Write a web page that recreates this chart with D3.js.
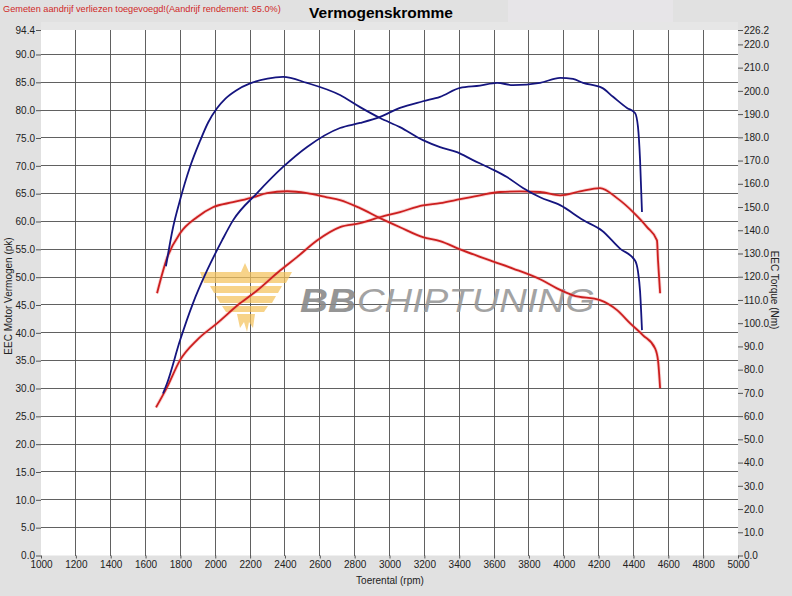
<!DOCTYPE html>
<html><head><meta charset="utf-8">
<script src="https://cdn.jsdelivr.net/npm/d3@7"></script>
<style>
html,body{margin:0;padding:0;background:#e1e1e1;}
svg{display:block;font-family:"Liberation Sans",Arial,sans-serif;}
</style></head>
<body>
<svg id="chart" width="792" height="596"></svg>
<script>
// ---- data ----
const rpmTicks = d3.range(1000, 5001, 200);
const pkTicks = d3.range(0, 90.1, 5).concat([94.4]);
const nmTicks = d3.range(0, 220.1, 10).concat([226.2]);

// tuned (blue) torque, Nm
const tunedTorqueRpm = [1717,1758,1798,1855,1912,1960,2010,2060,2120,2200,2300,2389,2527,2716,2831,2946,3060,3192,3290,3387,3479,3577,3674,3766,3864,3979,4111,4220,4323,4409,4426,4438,4449];
const tunedTorqueNm  = [124.5,141.3,153,167.2,178.3,186.5,192.5,196.8,200.2,203.2,205.3,206,203.4,198.2,193,188.3,184.4,178.8,175.8,173.6,170.2,166.7,162.9,158.2,154.2,150.8,144.4,139.8,132.1,127,122.3,113.7,97];
// tuned (blue) power, pk
const tunedPowerRpm = [1700,1723,1798,1872,1953,2039,2102,2240,2389,2527,2716,2831,2946,3060,3192,3290,3405,3519,3617,3709,3864,3979,4053,4111,4220,4283,4363,4409,4426,4438,4449];
const tunedPowerPk  = [29.1,30.9,38.65,45.3,51.2,56.6,60.2,65.1,69.8,73.4,76.8,77.7,78.8,80.4,81.6,82.4,84.0,84.4,84.9,84.5,84.9,85.8,85.6,84.9,84.0,82.4,80.4,79.5,77.0,71.0,61.7];
// stock (red) torque, Nm
const stockTorqueRpm = [1666,1723,1798,1895,1987,2102,2217,2297,2412,2527,2641,2716,2831,2946,3060,3192,3290,3405,3577,3709,3864,3961,4053,4208,4306,4380,4455,4524,4541,4553];
const stockTorqueNm  = [112.9,128,138.7,145.6,149.9,152.1,154.2,156.0,156.8,156.0,154.2,153,149.5,145.2,141.3,137,135.3,131.8,127,123.5,118.9,115,112,109.9,105.6,100,94.8,89.2,84,72];
// stock (red) power, pk
const stockPowerRpm = [1660,1723,1798,1895,2010,2142,2240,2372,2469,2584,2716,2831,2946,3060,3192,3290,3405,3519,3634,3749,3864,3979,4093,4208,4306,4398,4478,4535,4541,4553];
const stockPowerPk  = [26.6,30.2,35.1,38.7,41.7,45.3,47.6,51.2,53.6,56.6,59.0,59.7,60.8,61.7,62.9,63.3,64.0,64.7,65.3,65.4,65.3,64.7,65.4,66.0,64.2,61.7,59.0,56.6,53.0,47.1];

const headerText = "Gemeten aandrijf verliezen toegevoegd!(Aandrijf rendement: 95.0%)";
const titleText = "Vermogenskromme";

// ---- layout ----
const L = 41, R = 738, T = 30, B = 555.5;
const svg = d3.select("#chart");
const x = d3.scaleLinear().domain([1000, 5000]).range([L, R]);
const yL = d3.scaleLinear().domain([0, 94.4]).range([B, T]);
const yR = d3.scaleLinear().domain([0, 226.2]).range([B, T]);

svg.append("rect").attr("width", 792).attr("height", 596).attr("fill", "#e1e1e1");
svg.append("rect").attr("x", 508).attr("y", 0).attr("width", 165).attr("height", 22).attr("fill", "#e7e5e8");
svg.append("rect").attr("x", L).attr("y", 22).attr("width", R - L).attr("height", 8).attr("fill", "#e6e6e6");
svg.append("rect").attr("x", L).attr("y", T).attr("width", R - L).attr("height", B - T).attr("fill", "#ffffff");

// grid
const grid = svg.append("g").attr("stroke", "#505050").attr("stroke-width", 0.9).attr("shape-rendering", "crispEdges");
grid.selectAll("line.v").data(rpmTicks.slice(1, -1)).join("line")
  .attr("x1", d => x(d)).attr("x2", d => x(d)).attr("y1", T).attr("y2", B);
grid.selectAll("line.h").data(pkTicks.filter(d => d > 0 && d < 94)).join("line")
  .attr("x1", L).attr("x2", R).attr("y1", d => yL(d)).attr("y2", d => yL(d));

// axes
const fmt = d3.format(".1f");
const axL = svg.append("g").attr("transform", `translate(${L},0)`)
  .call(d3.axisLeft(yL).tickValues(pkTicks).tickFormat(fmt).tickSize(5).tickPadding(1));
const axR = svg.append("g").attr("transform", `translate(${R},0)`)
  .call(d3.axisRight(yR).tickValues(nmTicks).tickFormat(fmt).tickSize(5).tickPadding(1));
const axB = svg.append("g").attr("transform", `translate(0,${B})`)
  .call(d3.axisBottom(x).tickValues(rpmTicks).tickFormat(d3.format("d")).tickSize(3).tickPadding(2));
[axL, axR, axB].forEach(a => {
  a.select(".domain").remove();
  a.selectAll("line").attr("stroke", "#555");
  a.selectAll("text").attr("fill", "#222").style("font-size", "10px").style("font-family", "Liberation Sans, Arial, sans-serif");
});

// watermark logo
const logo = svg.append("g").attr("opacity", 0.72).attr("fill", "#f5c35c");
logo.append("path").attr("d", "M245,263 L249,272 L292,272 L286,283 L204,283 L200,272 L241,272 Z");
logo.append("path").attr("d", "M210,286 L282,286 L278,293 L214,293 Z");
logo.append("path").attr("d", "M216,296 L276,296 L272,303 L220,303 Z");
logo.append("path").attr("d", "M222,306 L268,306 L264,312 L226,312 Z");
logo.append("path").attr("d", "M237,314 L255,314 L253,328 L249,322 L247,332 L244,322 L240,328 Z");
svg.append("text").attr("x", 300).attr("y", 312).attr("fill", "#8a8a8a").attr("opacity", 0.9)
  .style("font-size", "34px").style("font-weight", "bold").style("font-style", "italic")
  .attr("textLength", 56).attr("lengthAdjust", "spacingAndGlyphs").text("BB");
svg.append("text").attr("x", 357).attr("y", 312).attr("fill", "#9a9a9a").attr("opacity", 0.9)
  .style("font-size", "34px").style("font-style", "italic")
  .attr("textLength", 238).attr("lengthAdjust", "spacingAndGlyphs").text("CHIPTUNING");

// curves
const lineL = d3.line().x(d => x(d[0])).y(d => yL(d[1])).curve(d3.curveMonotoneX);
const lineR = d3.line().x(d => x(d[0])).y(d => yR(d[1])).curve(d3.curveMonotoneX);
const zip = (a, b) => a.map((v, i) => [v, b[i]]);
const red = "#cc1f1f", blue = "#15157f";
const series = [
  {d: zip(stockPowerRpm, stockPowerPk), gen: lineL, c: red},
  {d: zip(stockTorqueRpm, stockTorqueNm), gen: lineR, c: red},
  {d: zip(tunedPowerRpm, tunedPowerPk), gen: lineL, c: blue},
  {d: zip(tunedTorqueRpm, tunedTorqueNm), gen: lineR, c: blue},
];
series.forEach(s => {
  if (s.c === red) {
    svg.append("path").attr("d", s.gen(s.d)).attr("fill", "none").attr("stroke", "#f08080").attr("stroke-width", 3.5).attr("opacity", 0.35);
  }
  svg.append("path").attr("d", s.gen(s.d)).attr("fill", "none").attr("stroke", s.c).attr("stroke-width", 1.8).attr("stroke-linejoin", "round");
});

// texts
svg.append("text").attr("x", 3).attr("y", 12).attr("fill", "#d02828").style("font-size", "9.2px").text(headerText);
svg.append("text").attr("x", 381).attr("y", 18).attr("text-anchor", "middle").attr("fill", "#000")
  .style("font-size", "15.5px").style("font-weight", "bold").text(titleText);
svg.append("text").attr("x", 390).attr("y", 584).attr("text-anchor", "middle").attr("fill", "#222")
  .style("font-size", "10px").text("Toerental (rpm)");
svg.append("text").attr("transform", "translate(12,296) rotate(-90)").attr("text-anchor", "middle").attr("fill", "#222")
  .style("font-size", "10px").text("EEC Motor Vermogen (pk)");
svg.append("text").attr("transform", "translate(771,290) rotate(90)").attr("text-anchor", "middle").attr("fill", "#222")
  .style("font-size", "10px").text("EEC Torque (Nm)");
</script>
</body></html>
